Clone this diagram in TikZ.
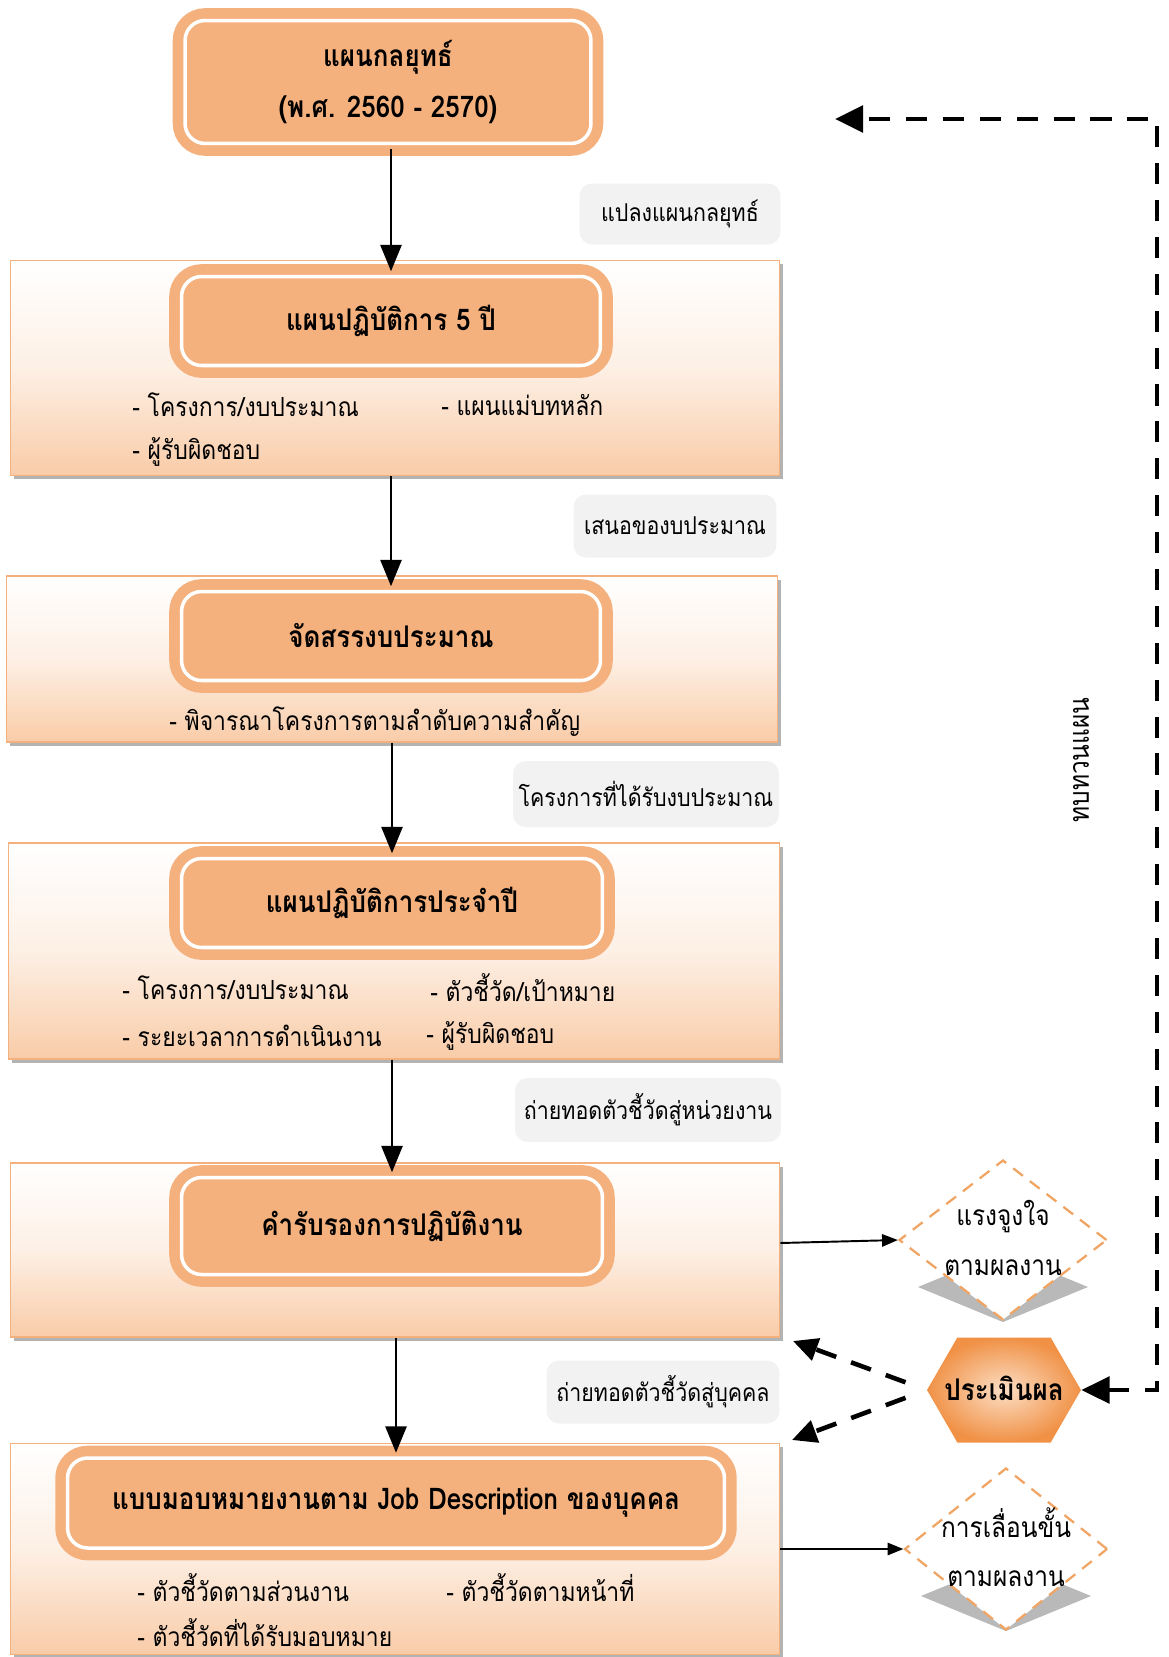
\documentclass[tikz,border=0pt]{standalone}
\usepackage{fontspec}
\setmainfont[Script=Thai,FakeStretch=0.87]{Loma}
\usetikzlibrary{arrows.meta,shapes.geometric,shapes.symbols,shadows}
\definecolor{peach}{RGB}{245,177,125}
\definecolor{peachpale}{RGB}{249,204,168}
\definecolor{dashorange}{RGB}{240,165,100}
\definecolor{hexorange}{RGB}{240,145,70}
\definecolor{hexlight}{RGB}{252,222,196}
\definecolor{tagfill}{RGB}{242,242,242}

\begin{document}
\begin{tikzpicture}[x=0.02cm,y=-0.02cm,
  panel/.style={rectangle,draw=peach,line width=1pt,inner sep=0pt,
    top color=white,bottom color=peachpale,middle color=white!70!peachpale,
    drop shadow={shadow xshift=2pt,shadow yshift=-2pt,fill=gray,opacity=0.6}},
  titlebox/.style={rectangle,draw=peach,line width=6pt,double=white,double distance=2pt,
    fill=peach,rounded corners=0.4cm,inner sep=0pt,align=center,
    font=\bfseries\fontsize{17}{29}\selectfont},
  tag/.style={rectangle,fill=tagfill,rounded corners=0.25cm,inner sep=0pt,
    font=\fontsize{14}{16}\selectfont},
  item/.style={anchor=west,inner sep=0pt,font=\fontsize{15}{17}\selectfont},
  flow/.style={line width=1.3pt,-{Triangle[length=15pt,width=12pt]}},
  sidearrow/.style={line width=1.1pt,-{Triangle[length=9pt,width=7pt]}},
  fb/.style={line width=2.6pt,dash pattern=on 12pt off 9pt,
    {Triangle[length=16pt,width=15pt]}-{Triangle[length=16pt,width=15pt]}},
  backarrow/.style={line width=2.6pt,dash pattern=on 12pt off 9pt,shorten <=0.45cm,
    -{Triangle[length=14pt,width=13pt]}},
  gem/.style={diamond,draw=dashorange,fill=white,line width=1.3pt,dash pattern=on 7pt off 5pt,
    inner sep=0pt},
  gemtext/.style={align=center,inner sep=0pt,font=\fontsize{16}{28}\selectfont},
  gemshadow/.style={fill=gray!55}
]
\useasboundingbox (0,0) rectangle (1169,1657);

\node[panel,minimum width=15.38cm,minimum height=4.3cm] (P1) at (395,368) {};
\node[panel,minimum width=15.42cm,minimum height=3.32cm] (P2) at (392,659) {};
\node[panel,minimum width=15.42cm,minimum height=4.32cm] (P3) at (394,951) {};
\node[panel,minimum width=15.38cm,minimum height=3.48cm] (P4) at (395,1250) {};
\node[panel,minimum width=15.38cm,minimum height=4.22cm] (P5) at (395,1549) {};

\node[titlebox,minimum width=8.12cm,minimum height=2.46cm] (T) at (388,82) {แผนกลยุทธ์\\(พ.ศ. 2560 - 2570)};
\node[titlebox,minimum width=8.38cm,minimum height=1.78cm] (B1) at (391,321) {แผนปฏิบัติการ 5 ปี};
\node[titlebox,minimum width=8.38cm,minimum height=1.78cm] (B2) at (391,636) {จัดสรรงบประมาณ};
\node[titlebox,minimum width=8.42cm,minimum height=1.78cm] (B3) at (392,903) {แผนปฏิบัติการประจำปี};
\node[titlebox,minimum width=8.42cm,minimum height=1.94cm] (B4) at (392,1226) {คำรับรองการปฏิบัติงาน};
\node[titlebox,minimum width=13.14cm,minimum height=1.8cm] (B5) at (396,1503) {แบบมอบหมายงานตาม Job Description ของบุคคล};

\node[item] (i1a) at (132,405) {- โครงการ/งบประมาณ};
\node[item] (i1b) at (441,405) {- แผนแม่บทหลัก};
\node[item] (i1c) at (132,452) {- ผู้รับผิดชอบ};
\node[item] (i2a) at (169,722) {- พิจารณาโครงการตามลำดับความสำคัญ};
\node[item] (i3a) at (122,988) {- โครงการ/งบประมาณ};
\node[item] (i3b) at (430,988) {- ตัวชี้วัด/เป้าหมาย};
\node[item] (i3c) at (122,1036) {- ระยะเวลาการดำเนินงาน};
\node[item] (i3d) at (426,1036) {- ผู้รับผิดชอบ};
\node[item] (i5a) at (137,1588) {- ตัวชี้วัดตามส่วนงาน};
\node[item] (i5b) at (446,1588) {- ตัวชี้วัดตามหน้าที่};
\node[item] (i5c) at (137,1633) {- ตัวชี้วัดที่ได้รับมอบหมาย};

\node[tag,minimum width=4.02cm,minimum height=1.22cm] (L1) at (680,214) {แปลงแผนกลยุทธ์};
\node[tag,minimum width=4.06cm,minimum height=1.26cm] (L2) at (675,526) {เสนอของบประมาณ};
\node[tag,minimum width=5.32cm,minimum height=1.32cm] (L3) at (646,794) {โครงการที่ได้รับงบประมาณ};
\node[tag,minimum width=5.32cm,minimum height=1.28cm] (L4) at (648,1110) {ถ่ายทอดตัวชี้วัดสู่หน่วยงาน};
\node[tag,minimum width=4.66cm,minimum height=1.26cm] (L5) at (663,1392) {ถ่ายทอดตัวชี้วัดสู่บุคคล};

\fill[gemshadow] (918,1287) -- (1003,1252) -- (1088,1287) -- (1003,1322) -- cycle;
\node[gem,minimum width=4.16cm,minimum height=3.2cm] (D1) at (1003,1240) {};
\node[gemtext] (D1t) at (1003,1238) {แรงจูงใจ\\ตามผลงาน};
\fill[gemshadow] (921,1596) -- (1006,1561) -- (1091,1596) -- (1006,1631) -- cycle;
\node[gem,minimum width=4.06cm,minimum height=3.24cm] (D2) at (1006,1549) {};
\node[gemtext] (D2t) at (1006,1547) {การเลื่อนขั้น\\ตามผลงาน};

\node[signal,signal to=east and west,signal pointer angle=120,draw=none,
  inner color=hexlight,outer color=hexorange,minimum width=3.08cm,minimum height=2.1cm]
  (H) at (1004,1390) {};
\node[font=\bfseries\fontsize{17}{20}\selectfont,inner sep=0pt] (Ht) at (1004,1388) {ประเมินผล};

\node[rotate=90,font=\fontsize{16}{18}\selectfont] (RV) at (1081,760) {ทบทวนแผน};

\coordinate (c4) at (793,1341);
\coordinate (c5) at (792,1440);
\coordinate (fbc) at (1157,119);
\coordinate (fbe) at (835,119);

\draw[flow] (B1 |- T.south) -- (B1.north);
\draw[flow] (B2 |- P1.south) -- (B2.north);
\draw[flow] (B3 |- P2.south) -- (B3.north);
\draw[flow] (B4 |- P3.south) -- (B4.north);
\draw[flow] (B5 |- P4.south) -- (B5.north);
\draw[sidearrow] ([yshift=0.14cm]P4.east) -- (D1.west);
\draw[sidearrow] (P5.east) -- (D2.west);
\draw[backarrow] (H.west) -- (c4);
\draw[backarrow] (H.west) -- (c5);
\draw[fb] (H.east) -- (H.east -| fbc) -- (fbc) -- (fbe);
\end{tikzpicture}
\end{document}
